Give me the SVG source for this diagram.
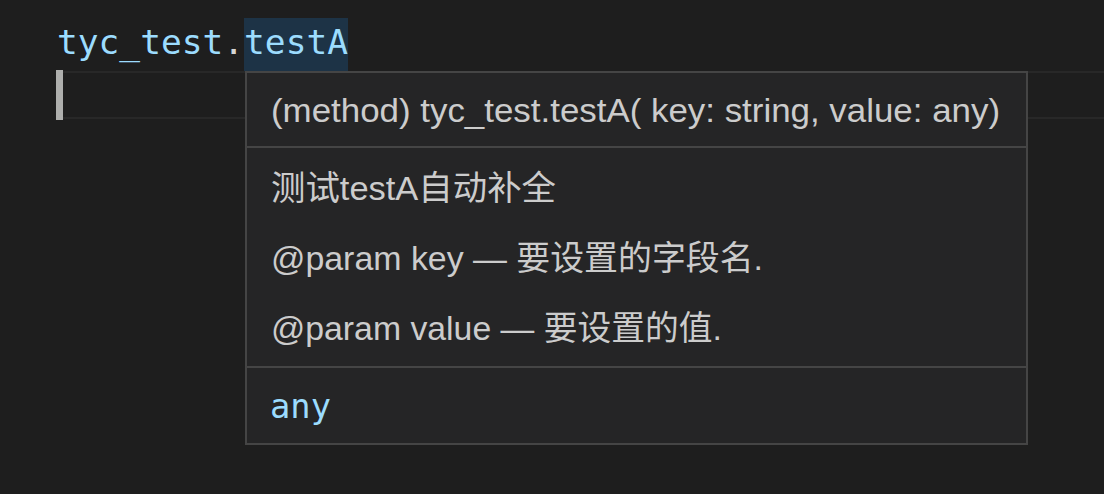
<svg xmlns="http://www.w3.org/2000/svg" width="1104" height="494" viewBox="0 0 1104 494">
<style>
.code{font-family:"DejaVu Sans Mono","Liberation Mono",monospace;font-size:34.5px;fill:#9cdcfe}
.t{font-family:"Liberation Sans","Noto Sans CJK SC",sans-serif;font-size:34px;fill:#cccccc}
.sep{stroke:#454545;stroke-width:2}
</style>
<rect x="0" y="0" width="1104" height="494" fill="#1e1e1e"/>
<g id="editor">
<rect x="60" y="72" width="1046" height="46" fill="none" stroke="#282828" stroke-width="2"/>
<rect x="56" y="70" width="7" height="50" fill="#aeafad"/>
<rect x="244" y="18" width="104" height="53" fill="#1d3346"/>
<text class="code" x="57" y="54" textLength="291" lengthAdjust="spacingAndGlyphs">tyc_test<tspan fill="#d4d4d4">.</tspan>testA</text>
</g>
<g id="hover">
<rect x="246" y="72" width="781" height="372" fill="#252526" stroke="#454545" stroke-width="2"/>
<line class="sep" x1="247" y1="147" x2="1026" y2="147"/>
<line class="sep" x1="247" y1="367" x2="1026" y2="367"/>
<text class="t" x="271" y="122" textLength="729" lengthAdjust="spacingAndGlyphs">(method) tyc_test.testA( key: string, value: any)</text>
<text class="t" x="271" y="200" textLength="285" lengthAdjust="spacingAndGlyphs">测试testA自动补全</text>
<text class="t" x="271" y="270" textLength="492" lengthAdjust="spacingAndGlyphs">@param key — 要设置的字段名.</text>
<text class="t" x="271" y="340" textLength="451" lengthAdjust="spacingAndGlyphs">@param value — 要设置的值.</text>
<text class="code" x="270" y="418" textLength="61" lengthAdjust="spacingAndGlyphs" fill="#8fd4f8">any</text>
</g>
</svg>
